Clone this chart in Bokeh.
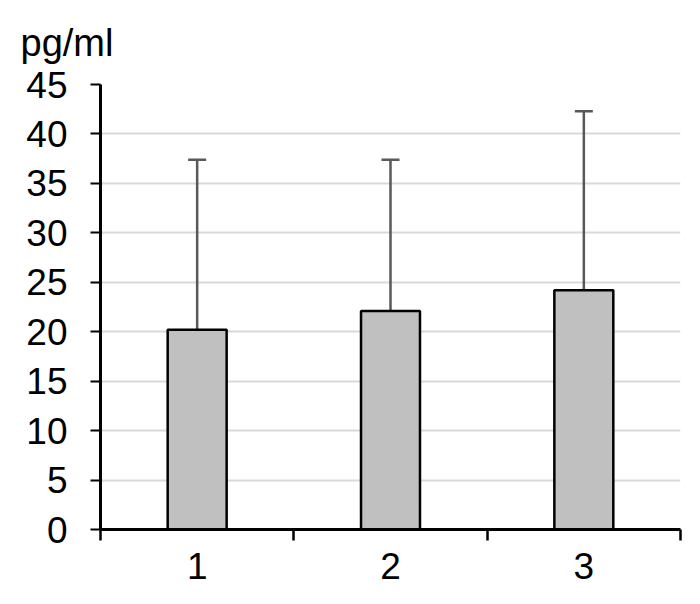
from bokeh.plotting import figure
from bokeh.models import ColumnDataSource, Range1d, FixedTicker, Whisker, TeeHead
from bokeh.embed import file_html
from bokeh.resources import INLINE

# ---- data ----
categories = ["1", "2", "3"]
means = [20.2, 22.1, 24.2]
err_upper = [37.4, 37.4, 42.3]
err_lower = [4.8, 8.5, 8.75]
y_ticks = [0, 5, 10, 15, 20, 25, 30, 35, 40, 45]
y_unit = "pg/ml"

xs = [i + 0.5 for i in range(len(categories))]
src = ColumnDataSource(dict(x=xs, top=means, upper=err_upper, lower=err_lower))

FONT = "Liberation Sans"
FS = "37px"

p = figure(frame_width=580, frame_height=445,
           min_border_left=100, min_border_right=4, min_border_top=84, min_border_bottom=59,
           x_range=Range1d(0, len(categories)), y_range=Range1d(0, 45),
           output_backend="svg", toolbar_location=None, tools="")
p.outline_line_color = None
p.background_fill_color = "white"

# unit label above the y axis
p.title.text = y_unit
p.title.align = "left"
p.title.vertical_align = "top"
p.title.offset = -80
p.title.standoff = 38
p.title.text_font = FONT
p.title.text_font_size = "38px"
p.title.text_font_style = "normal"
p.title.text_color = "black"

# grid
p.xgrid.visible = False
p.ygrid.ticker = FixedTicker(ticks=y_ticks)
p.ygrid.grid_line_color = "#d9d9d9"
p.ygrid.grid_line_width = 2

# y axis
p.yaxis.ticker = FixedTicker(ticks=y_ticks)
p.yaxis.axis_line_color = "black"
p.yaxis.axis_line_width = 3
p.yaxis.major_tick_line_color = "black"
p.yaxis.major_tick_line_width = 2
p.yaxis.major_tick_out = 10
p.yaxis.major_tick_in = 0
p.yaxis.minor_tick_line_color = None
p.yaxis.major_label_standoff = 23
p.yaxis.major_label_text_font = FONT
p.yaxis.major_label_text_font_size = FS
p.yaxis.major_label_text_color = "black"

# x axis: labels at centers, ticks at category boundaries
p.xaxis.ticker = FixedTicker(ticks=xs, minor_ticks=list(range(len(categories) + 1)))
p.xaxis.major_label_overrides = {x: c for x, c in zip(xs, categories)}
p.xaxis.axis_line_color = "black"
p.xaxis.axis_line_width = 3
p.xaxis.major_tick_line_color = None
p.xaxis.major_tick_out = 0
p.xaxis.major_tick_in = 0
p.xaxis.minor_tick_line_color = "black"
p.xaxis.minor_tick_line_width = 2.5
p.xaxis.minor_tick_out = 11
p.xaxis.minor_tick_in = 0
p.xaxis.major_label_standoff = 12
p.xaxis.major_label_text_font = FONT
p.xaxis.major_label_text_font_size = FS
p.xaxis.major_label_text_color = "black"

# bars
p.vbar(x="x", top="top", width=0.305, bottom=0, source=src,
       fill_color="#c0c0c0", line_color="black", line_width=2.5)

# error bars
w = Whisker(source=src, base="x", upper="upper", lower="lower",
            line_color="#595959", line_width=2.5,
            upper_head=TeeHead(size=18, line_color="#595959", line_width=2.5),
            lower_head=TeeHead(size=18, line_color="#595959", line_width=2.5))
p.add_layout(w)

open("out.html", "w").write(file_html(p, INLINE))
